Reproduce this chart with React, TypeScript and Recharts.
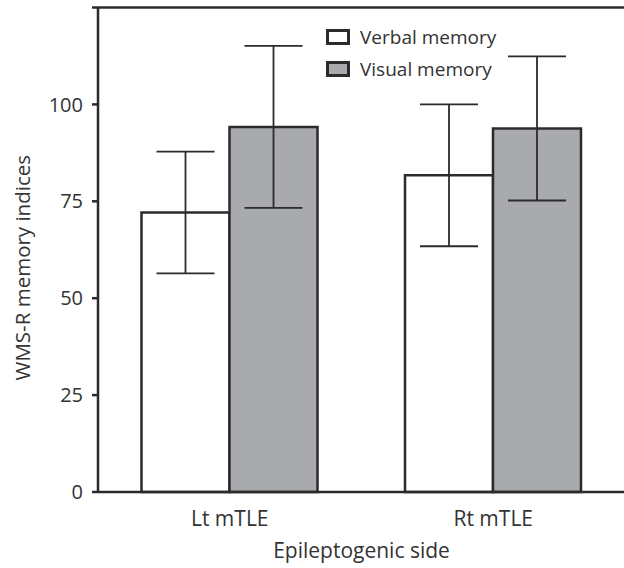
import { BarChart, Bar, XAxis, YAxis, ErrorBar, ReferenceLine, Legend } from 'recharts';

// values (WMS-R indices, mean ± SD)
const CATEGORIES = ['Lt mTLE', 'Rt mTLE'];
const VERBAL = [72.1, 81.7];
const VERBAL_SD = [15.7, 18.3];
const VISUAL = [94.2, 93.8];
const VISUAL_SD = [20.9, 18.6];
const Y_TICKS = [0, 25, 50, 75, 100];
const Y_MAX = 125;
const SERIES_LABELS = ['Verbal memory', 'Visual memory'];

const INK = '#2b2b2b';
const TEXT = '#333';
const GREY = '#a9aaad';
const FONT = '"Open Sans", sans-serif';

const data = CATEGORIES.map((name, i) => ({
  name,
  verbal: VERBAL[i],
  verbalSd: VERBAL_SD[i],
  visual: VISUAL[i],
  visualSd: VISUAL_SD[i],
}));

const legendItems = [
  { label: SERIES_LABELS[0], fill: '#ffffff' },
  { label: SERIES_LABELS[1], fill: GREY },
];

function LegendBox() {
  return (
    <div style={{ fontFamily: FONT, fontSize: 19, color: TEXT }}>
      {legendItems.map((it) => (
        <div key={it.label} style={{ display: 'flex', alignItems: 'center', height: 32 }}>
          <span
            style={{
              display: 'inline-block',
              width: 24,
              height: 16,
              boxSizing: 'border-box',
              border: `3px solid ${INK}`,
              background: it.fill,
              marginRight: 10,
            }}
          />
          <span>{it.label}</span>
        </div>
      ))}
    </div>
  );
}

export default function App() {
  return (
    <div style={{ position: 'absolute', left: 0, top: 0, background: '#fff', fontFamily: FONT }}>
      <BarChart
        width={630}
        height={568}
        data={data}
        margin={{ top: 7.5, right: 5, bottom: 0, left: 0 }}
        barCategoryGap={43.5}
        barGap={0}
      >
        <XAxis
          dataKey="name"
          height={76}
          fontSize={21}
          tickLine={false}
          tickSize={0}
          tickMargin={19}
          axisLine={{ stroke: INK, strokeWidth: 2.5 }}
          tick={{ fontSize: 21, fill: TEXT, fontFamily: FONT }}
          label={{
            value: 'Epileptogenic side',
            position: 'insideBottom',
            offset: 10,
            fontSize: 21,
            style: { fontSize: 21, fill: TEXT, fontFamily: FONT },
          }}
        />
        <YAxis
          width={98}
          fontSize={20}
          domain={[0, Y_MAX]}
          ticks={[...Y_TICKS, Y_MAX]}
          tickFormatter={(v: number) => (v === Y_MAX ? '' : String(v))}
          interval={0}
          tickSize={6}
          tickMargin={9}
          axisLine={{ stroke: INK, strokeWidth: 2.5 }}
          tickLine={{ stroke: INK, strokeWidth: 2.5 }}
          tick={{ fontSize: 20, fill: TEXT, fontFamily: FONT }}
          label={{
            value: 'WMS-R memory indices',
            angle: -90,
            position: 'center',
            dx: -26,
            dy: 18,
            fontSize: 20.5,
            style: { fontSize: 20.5, fill: TEXT, fontFamily: FONT, textAnchor: 'middle' },
          }}
        />
        <ReferenceLine y={Y_MAX} stroke={INK} strokeWidth={2.5} />
        <Legend
          layout="horizontal"
          verticalAlign="middle"
          align="center"
          content={<LegendBox />}
          wrapperStyle={{ top: 21, left: 326, width: 'auto', height: 'auto' }}
        />
        <Bar dataKey="verbal" fill="#ffffff" stroke={INK} strokeWidth={2.5} isAnimationActive={false}>
          <ErrorBar dataKey="verbalSd" width={29} stroke={INK} strokeWidth={1.8} isAnimationActive={false} />
        </Bar>
        <Bar dataKey="visual" fill={GREY} stroke={INK} strokeWidth={2.5} isAnimationActive={false}>
          <ErrorBar dataKey="visualSd" width={29} stroke={INK} strokeWidth={1.8} isAnimationActive={false} />
        </Bar>
      </BarChart>
    </div>
  );
}
